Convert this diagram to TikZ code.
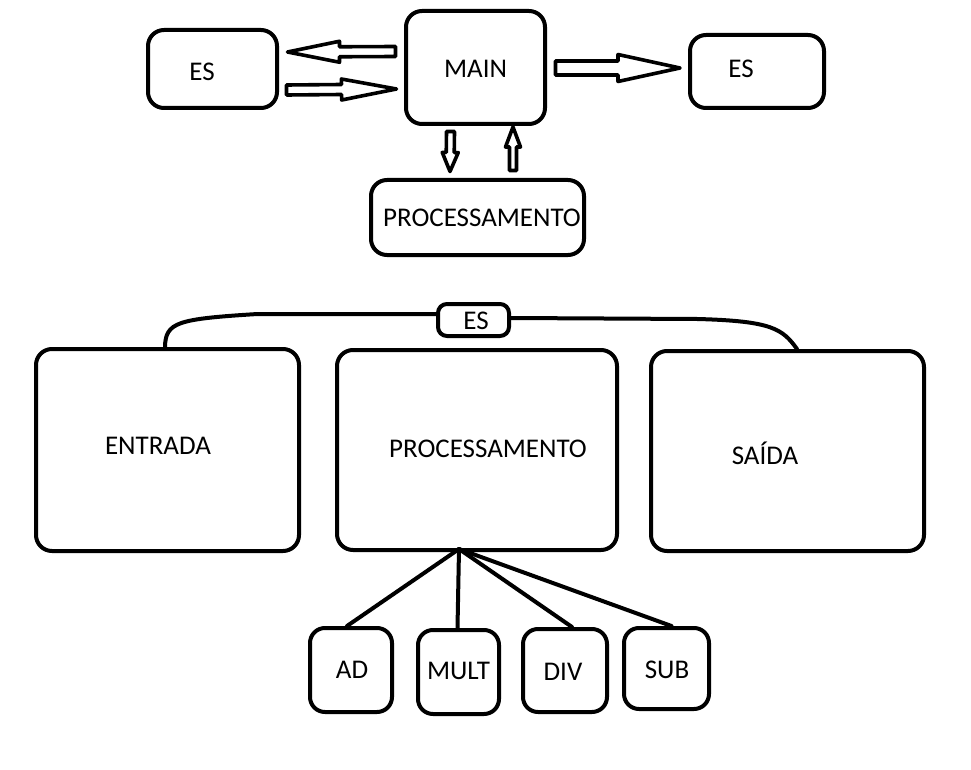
\documentclass[tikz,border=0pt]{standalone}
\usepackage{fontspec}
\setmainfont{Carlito}
\usetikzlibrary{calc}
\tikzset{
  box/.style={draw=black, line width=4pt, rounded corners=16pt, fill=white, inner sep=0pt},
  txt/.style={inner sep=0pt, font=\fontsize{27}{31}\selectfont, text height=17.5pt, text depth=0pt},
  barrow/.style={draw=black, line width=3.6pt, line join=round, fill=white},
  conn/.style={draw=black, line width=4pt, line cap=round},
}
\newcommand\blockarr[5]{%
  \coordinate (ba-c) at ($(#2)!#5!(#1)$);
  \draw[barrow] ($(#1)!#3!90:(#2)$) -- ($(ba-c)!#3!90:(#2)$) -- ($(ba-c)!#4!90:(#2)$) -- (#2)
    -- ($(ba-c)!#4!-90:(#2)$) -- ($(ba-c)!#3!-90:(#2)$) -- ($(#1)!#3!-90:(#2)$) -- cycle;}
\begin{document}
\begin{tikzpicture}[x=1pt,y=-1pt]
\fill[white] (0,0) rectangle (971,770);
\useasboundingbox (0,0) rectangle (971,770);

% top boxes
\node[box, minimum width=129pt, minimum height=78pt] (esl) at (212.5,69) {};
\node[box, minimum width=139pt, minimum height=113pt] (main) at (475.5,67.5) {};
\node[box, minimum width=134pt, minimum height=73pt] (esr) at (757,71.5) {};
\node[box, minimum width=213pt, minimum height=75pt] (proct) at (477.5,217.5) {};
\node[txt] (esl-t) at ($(esl.center)+(-10.5,3)$) {ES};
\node[txt] (main-t) at ($(main.center)+(0,1.5)$) {MAIN};
\node[txt] (esr-t) at ($(esr.center)+(-16,-2.5)$) {ES};
\node[txt] (proct-t) at ($(proct.center)+(4.5,0)$) {PROCESSAMENTO};

% block arrows
\coordinate (a1s) at ($(main.center)+(-80,-16)$);
\coordinate (a1e) at ($(esl.center)+(75,-17)$);
\coordinate (a2s) at ($(esl.center)+(74,21)$);
\coordinate (a2e) at ($(main.center)+(-79,21.5)$);
\coordinate (a3s) at ($(main.center)+(80,0.5)$);
\coordinate (a3e) at ($(esr.center)+(-77,-3.5)$);
\coordinate (a4s) at ($(main.center)+(-25,64)$);
\coordinate (a4e) at ($(proct.center)+(-27.5,-46)$);
\coordinate (a5s) at ($(proct.center)+(35.5,-47)$);
\coordinate (a5e) at ($(main.center)+(37.5,59.5)$);
\blockarr{a1s}{a1e}{5pt}{10.5pt}{52pt}
\blockarr{a2s}{a2e}{5pt}{10.5pt}{55pt}
\blockarr{a3s}{a3e}{7pt}{13.5pt}{62pt}
\blockarr{a4s}{a4e}{4pt}{8pt}{19pt}
\blockarr{a5s}{a5e}{3.5pt}{7.5pt}{20pt}

% bottom boxes
\node[box, minimum width=263pt, minimum height=202pt] (entrada) at (167.5,450) {};
\node[box, minimum width=280pt, minimum height=200pt] (procb) at (477,450) {};
\node[box, minimum width=273pt, minimum height=200pt] (saida) at (787.5,451) {};
\node[box, rounded corners=9pt, minimum width=71pt, minimum height=32pt] (esb) at (473.5,320) {};
\node[txt] (entrada-t) at ($(entrada.center)+(-9.5,-4)$) {ENTRADA};
\node[txt] (procb-t) at ($(procb.center)+(11,-1)$) {PROCESSAMENTO};
\node[txt] (saida-t) at ($(saida.center)+(-22.5,5)$) {SAÍDA};
\node[txt] (esb-t) at ($(esb.center)+(2.5,1)$) {ES};

% ES bracket
\draw[conn] ($(entrada.north)+(-2.5,0)$) .. controls ($(entrada.north)+(-2,-25)$) and ($(entrada.north)+(10,-28)$) .. ($(entrada.north)+(90,-33)$) -- ($(esb.west)+(0,-6)$);
\draw[conn] ($(esb.east)+(0,-2)$) -- ($(saida.north)+(-90,-30)$) .. controls ($(saida.north)+(-15,-28)$) and ($(saida.north)+(-5,-20)$) .. ($(saida.north)+(9.5,0)$);

% small boxes
\node[box, rounded corners=15pt, minimum width=82pt, minimum height=84pt] (ad) at (351,670) {};
\node[box, rounded corners=15pt, minimum width=81pt, minimum height=84pt] (mult) at (458.5,672) {};
\node[box, rounded corners=15pt, minimum width=84pt, minimum height=83pt] (div) at (565,670.5) {};
\node[box, rounded corners=15pt, minimum width=85pt, minimum height=81pt] (sub) at (666.5,668.5) {};
\node[txt] (ad-t) at ($(ad.center)+(1,0)$) {AD};
\node[txt] (mult-t) at ($(mult.center)+(0,-1)$) {MULT};
\node[txt] (div-t) at ($(div.center)+(-2,1.5)$) {DIV};
\node[txt] (sub-t) at ($(sub.center)+(0.5,1.5)$) {SUB};

% fan connectors
\coordinate (fan) at ($(procb.center)+(-18,99)$);
\draw[conn] (fan) -- ($(ad.north)+(-4,0)$);
\draw[conn] (fan) -- ($(mult.north)+(-1,0)$);
\draw[conn] (fan) -- ($(div.north)+(7,0)$);
\draw[conn] (fan) -- ($(sub.north)+(5,0)$);
\end{tikzpicture}
\end{document}
